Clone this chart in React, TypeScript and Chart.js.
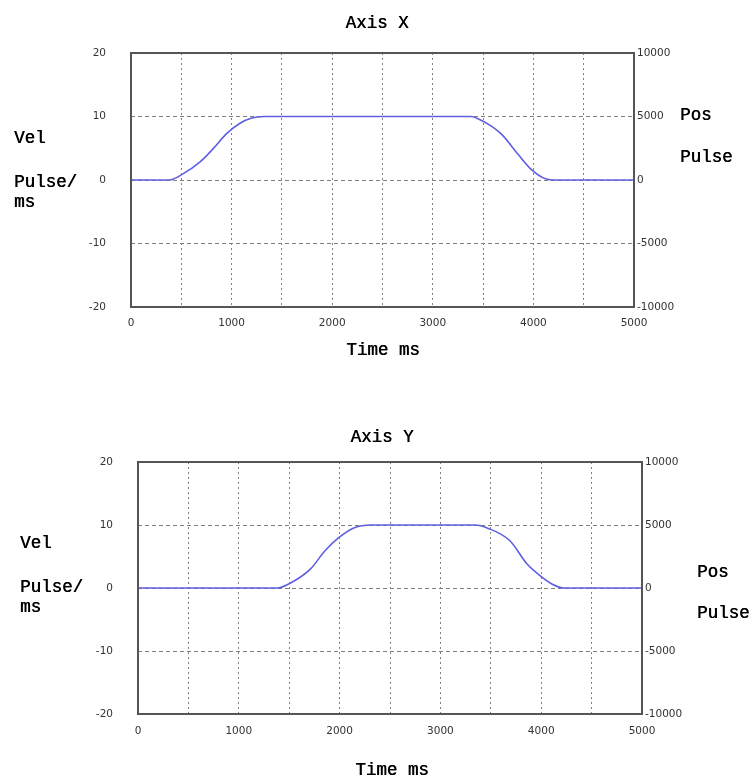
import React, { useEffect, useRef } from "react";
import { Chart, registerables } from "chart.js";

Chart.register(...registerables);

// ---- data ----
const velTicks = [-20, -10, 0, 10, 20];
const posTicks = [-10000, -5000, 0, 5000, 10000];
const timeGrid = [0, 500, 1000, 1500, 2000, 2500, 3000, 3500, 4000, 4500, 5000];
const timeLabels = [0, 1000, 2000, 3000, 4000, 5000];

const axisXTime = [0, 380, 500, 690, 815, 950, 1080, 1200, 1320, 3380, 3470, 3590, 3690, 3850, 3970, 4120, 4230, 5000];
const axisXVel = [0, 0, 0.8, 2.9, 4.9, 7.3, 8.9, 9.75, 10, 10, 9.5, 8.4, 7.1, 4.0, 1.8, 0.2, 0, 0];

const axisYTime = [0, 1380, 1490, 1710, 1855, 1985, 2135, 2320, 3345, 3470, 3690, 3860, 3970, 4110, 4230, 5000];
const axisYVel = [0, 0, 0.6, 3.0, 5.9, 7.9, 9.5, 10, 10, 9.5, 7.5, 3.8, 2.2, 0.6, 0, 0];

const W = 751;
const H = 389;

type TextItem = { text: string; x: number; y: number; align: CanvasTextAlign };

interface PanelProps {
  top: number;
  times: number[];
  vels: number[];
  area: { left: number; right: number; top: number; bottom: number };
  texts: TextItem[];
  xPad: number;
}

function Panel({ top, times, vels, area, texts, xPad }: PanelProps) {
  const ref = useRef<HTMLCanvasElement | null>(null);
  useEffect(() => {
    if (!ref.current) return;
    const textPlugin = {
      id: "panelTexts",
      afterDraw(chart: any) {
        const ctx = chart.ctx as CanvasRenderingContext2D;
        const a = chart.chartArea;
        ctx.save();
        ctx.strokeStyle = "#555";
        ctx.lineWidth = 2;
        ctx.strokeRect(a.left, a.top, a.right - a.left, a.bottom - a.top);
        ctx.font = '17.5px "Liberation Mono"';
        ctx.fillStyle = "#000";
        ctx.textBaseline = "alphabetic";
        texts.forEach((t) => {
          ctx.textAlign = t.align;
          ctx.fillText(t.text, t.x, t.y);
          ctx.fillText(t.text, t.x + 0.5, t.y);
        });
        ctx.restore();
      },
    };
    const tickFont = { family: '"DejaVu Sans"', size: 10.5 };
    const tickColor = "#333";
    const edgeColor = (v: number, edges: number[]) => (edges.includes(v) ? "rgba(0,0,0,0)" : "#808080");
    const chart = new Chart(ref.current, {
      type: "line",
      data: {
        datasets: [
          {
            data: times.map((t, i) => ({ x: t, y: vels[i] })),
            borderColor: "rgb(95,95,225)",
            borderWidth: 1.6,
            pointRadius: 0,
            cubicInterpolationMode: "monotone",
            yAxisID: "y",
          },
        ],
      },
      options: {
        animation: false,
        responsive: false,
        layout: { padding: { top: area.top, left: 0, right: 0, bottom: 0 } },
        plugins: { legend: { display: false }, tooltip: { enabled: false }, title: { display: false } },
        scales: {
          x: {
            type: "linear",
            min: 0,
            max: 5000,
            afterBuildTicks: (s: any) => {
              s.ticks = timeGrid.map((v) => ({ value: v }));
            },
            afterFit: (s: any) => {
              s.height = H - area.bottom;
            },
            ticks: {
              autoSkip: false,
              maxRotation: 0,
              padding: xPad,
              color: tickColor,
              font: tickFont,
              callback: (v: any) => (timeLabels.includes(Number(v)) ? String(v) : ""),
            },
            grid: {
              drawTicks: false,
              lineWidth: 1,
              color: (c: any) => edgeColor(c.tick?.value, [0, 5000]),
            },
            border: { display: false, dash: [2, 3] },
          },
          y: {
            type: "linear",
            position: "left",
            min: -20,
            max: 20,
            afterBuildTicks: (s: any) => {
              s.ticks = velTicks.map((v) => ({ value: v }));
            },
            afterFit: (s: any) => {
              s.width = area.left;
            },
            ticks: { padding: 25, color: tickColor, font: tickFont, callback: (v: any) => String(v) },
            grid: {
              drawTicks: false,
              lineWidth: 1,
              color: (c: any) => edgeColor(c.tick?.value, [-20, 20]),
            },
            border: { display: false, dash: [4, 3] },
          },
          y2: {
            type: "linear",
            position: "right",
            min: -10000,
            max: 10000,
            afterBuildTicks: (s: any) => {
              s.ticks = posTicks.map((v) => ({ value: v }));
            },
            afterFit: (s: any) => {
              s.width = W - area.right;
            },
            ticks: { padding: 3, color: tickColor, font: tickFont, callback: (v: any) => String(v) },
            grid: { display: false, drawTicks: false },
            border: { display: false },
          },
        },
      },
      plugins: [textPlugin],
    } as any);
    return () => chart.destroy();
  }, []);
  return (
    <canvas
      ref={ref}
      width={W}
      height={H}
      style={{ position: "absolute", left: 0, top, width: W, height: H, display: "block" }}
    />
  );
}

export default function App() {
  const t1: TextItem[] = [
    { text: "Axis X", x: 377, y: 28, align: "center" },
    { text: "Vel", x: 14, y: 143, align: "left" },
    { text: "Pulse/", x: 14, y: 187, align: "left" },
    { text: "ms", x: 14, y: 207, align: "left" },
    { text: "Pos", x: 680, y: 120, align: "left" },
    { text: "Pulse", x: 680, y: 162, align: "left" },
    { text: "Time ms", x: 383, y: 355, align: "center" },
  ];
  const o = 389;
  const t2: TextItem[] = [
    { text: "Axis Y", x: 382, y: 442 - o, align: "center" },
    { text: "Vel", x: 20, y: 548 - o, align: "left" },
    { text: "Pulse/", x: 20, y: 592 - o, align: "left" },
    { text: "ms", x: 20, y: 612 - o, align: "left" },
    { text: "Pos", x: 697, y: 577 - o, align: "left" },
    { text: "Pulse", x: 697, y: 618 - o, align: "left" },
    { text: "Time ms", x: 392, y: 775 - o, align: "center" },
  ];
  return (
    <div style={{ position: "absolute", left: 0, top: 0, width: W, height: 778, background: "#fff" }}>
      <Panel
        top={0}
        times={axisXTime}
        vels={axisXVel}
        area={{ left: 131, right: 634, top: 53, bottom: 307 }}
        texts={t1}
        xPad={10}
      />
      <Panel
        top={389}
        times={axisYTime}
        vels={axisYVel}
        area={{ left: 138, right: 642, top: 73, bottom: 325 }}
        texts={t2}
        xPad={11}
      />
    </div>
  );
}
